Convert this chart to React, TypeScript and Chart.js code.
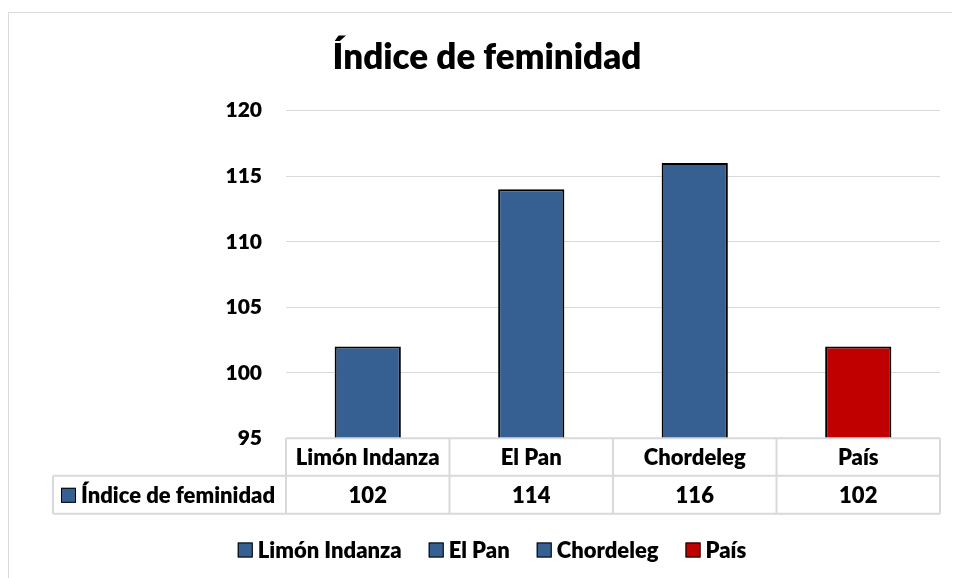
import React, { useEffect, useRef } from "react";
import { Chart, registerables } from "chart.js";

Chart.register(...registerables);

// ---- data ----
const title = "Índice de feminidad";
const seriesLabel = "Índice de feminidad";
const categories = ["Limón Indanza", "El Pan", "Chordeleg", "País"];
const values = [102, 114, 116, 102];
const barColors = ["#376092", "#376092", "#376092", "#C00000"];
const yMin = 95;
const yMax = 120;
const yStep = 5;

const W = 954;
const H = 578;
const FONT = "Lato, 'Open Sans', sans-serif";
const WEIGHT = "800";
const GRID = "#d9d9d9";

const excelPlugin = {
  id: "excelExtras",
  beforeDraw(chart: any) {
    const ctx = chart.ctx;
    ctx.save();
    ctx.fillStyle = "#ffffff";
    ctx.fillRect(0, 0, W, H);
    ctx.strokeStyle = GRID;
    ctx.lineWidth = 1;
    ctx.beginPath();
    ctx.moveTo(8.5, H);
    ctx.lineTo(8.5, 12.5);
    ctx.lineTo(952, 12.5);
    ctx.stroke();
    ctx.restore();
  },
  afterDraw(chart: any) {
    const { ctx, chartArea, scales } = chart;
    const xs = scales.x;
    const n = categories.length;
    const top = chartArea.bottom;
    const mid = top + 37.5;
    const bottom = mid + 38;
    const labelLeft = 53;

    const bounds: number[] = [chartArea.left];
    for (let i = 0; i < n - 1; i++) {
      bounds.push((xs.getPixelForValue(i) + xs.getPixelForValue(i + 1)) / 2);
    }
    bounds.push(chartArea.right);

    ctx.save();
    // title
    ctx.fillStyle = "#000";
    ctx.font = `${WEIGHT} 35px ${FONT}`;
    ctx.textAlign = "center";
    ctx.textBaseline = "alphabetic";
    ctx.fillText(title, 487, 69);

    // data table lines
    ctx.strokeStyle = GRID;
    ctx.lineWidth = 2;
    ctx.beginPath();
    ctx.moveTo(bounds[0], top);
    ctx.lineTo(bounds[n], top);
    ctx.moveTo(labelLeft, mid);
    ctx.lineTo(bounds[n], mid);
    ctx.moveTo(labelLeft, bottom);
    ctx.lineTo(bounds[n], bottom);
    ctx.moveTo(labelLeft, mid);
    ctx.lineTo(labelLeft, bottom);
    for (let i = 0; i <= n; i++) {
      ctx.moveTo(bounds[i], top);
      ctx.lineTo(bounds[i], bottom);
    }
    ctx.stroke();

    // table text
    ctx.fillStyle = "#000";
    ctx.font = `${WEIGHT} 22px ${FONT}`;
    ctx.textAlign = "center";
    ctx.textBaseline = "middle";
    for (let i = 0; i < n; i++) {
      const cx = xs.getPixelForValue(i);
      ctx.fillText(categories[i], cx, (top + mid) / 2 + 1);
      ctx.fillText(String(values[i]), cx, (mid + bottom) / 2 + 1);
    }
    // series label cell with key
    const keyX = 61;
    const rowMid = (mid + bottom) / 2;
    ctx.fillStyle = barColors[0];
    ctx.fillRect(keyX, rowMid - 7, 15, 15);
    ctx.strokeStyle = "#000";
    ctx.lineWidth = 1;
    ctx.strokeRect(keyX + 0.5, rowMid - 6.5, 14, 14);
    ctx.fillStyle = "#000";
    ctx.textAlign = "left";
    ctx.fillText(seriesLabel, keyX + 20, rowMid + 1);

    // legend
    const box = 15;
    const gapText = 5;
    const gapItem = 27;
    const widths = categories.map((c) => ctx.measureText(c).width);
    const total =
      widths.reduce((a, w) => a + box + gapText + w, 0) + gapItem * (n - 1);
    let lx = 492 - total / 2;
    const ly = 550;
    for (let i = 0; i < n; i++) {
      ctx.fillStyle = barColors[i];
      ctx.fillRect(lx, ly - 7.5, box, box);
      ctx.strokeStyle = "#000";
      ctx.lineWidth = 1;
      ctx.strokeRect(lx + 0.5, ly - 7, box - 1, box - 1);
      ctx.fillStyle = "#000";
      ctx.fillText(categories[i], lx + box + gapText, ly + 1);
      lx += box + gapText + widths[i] + gapItem;
    }
    ctx.restore();
  },
};

export default function App() {
  const ref = useRef<HTMLCanvasElement | null>(null);

  useEffect(() => {
    document.body.style.margin = "0";
    const canvas = ref.current;
    if (!canvas) return;
    const chart = new Chart(canvas, {
      type: "bar",
      data: {
        labels: categories,
        datasets: [
          {
            label: seriesLabel,
            data: values,
            backgroundColor: barColors,
            borderColor: "#000000",
            borderWidth: 2,
            categoryPercentage: 1,
            barPercentage: 0.405,
          },
        ],
      },
      options: {
        responsive: false,
        animation: false,
        devicePixelRatio: 1,
        layout: {
          padding: { left: 0, right: 14, top: 110.7, bottom: H - 438.3 },
        },
        plugins: {
          legend: { display: false },
          title: { display: false },
          tooltip: { enabled: false },
        },
        scales: {
          x: { display: false },
          y: {
            min: yMin,
            max: yMax,
            ticks: {
              stepSize: yStep,
              padding: 24,
              color: "#000",
              font: { family: FONT, size: 21, weight: WEIGHT },
            },
            grid: { color: GRID, lineWidth: 1, drawTicks: false },
            border: { display: false },
            afterFit: (s: any) => {
              s.width = 286;
            },
          },
        },
      },
      plugins: [excelPlugin],
    } as any);
    return () => chart.destroy();
  }, []);

  return (
    <div style={{ width: W, height: H, overflow: "hidden" }}>
      <canvas ref={ref} width={W} height={H} style={{ display: "block" }} />
    </div>
  );
}
